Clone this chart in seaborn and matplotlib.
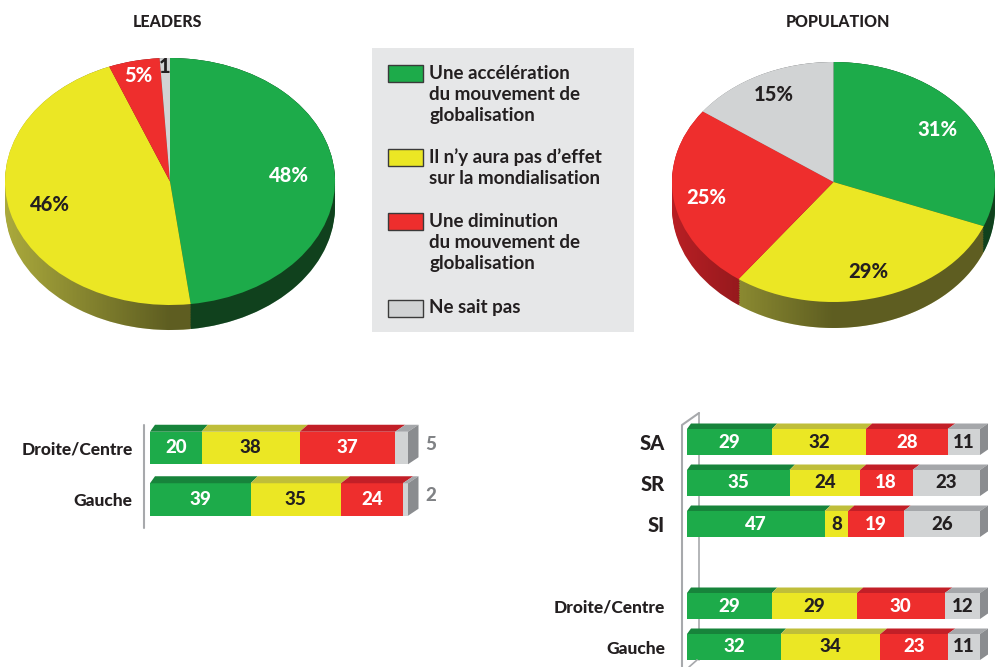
import numpy as np
import matplotlib
matplotlib.use("Agg")
import matplotlib.pyplot as plt
from matplotlib.patches import Polygon, Rectangle
from matplotlib.lines import Line2D
import seaborn as sns

sns.set_theme(style="white")
plt.rcParams["font.family"] = ["Lato", "DejaVu Sans"]
plt.rcParams["font.weight"] = "bold"

W, H = 1000, 667
DARK = "#231f20"
HEAVY = 900

# ---- data ----
answers = [
    "Une accélération\ndu mouvement de\nglobalisation",
    "Il n’y aura pas d’effet\nsur la mondialisation",
    "Une diminution\ndu mouvement de\nglobalisation",
    "Ne sait pas",
]

leaders_share = [48, 46, 5, 1]
leaders_share_labels = ["48%", "46%", "5%", "1"]
population_share = [31, 29, 25, 15]
population_share_labels = ["31%", "29%", "25%", "15%"]

leaders_groups = ["Droite/Centre", "Gauche"]
leaders_accel = [20, 39]
leaders_no_effect = [38, 35]
leaders_decline = [37, 24]
leaders_dont_know = [5, 2]

population_groups = ["SA", "SR", "SI", "Droite/Centre", "Gauche"]
population_order = ["SA", "SR", "SI", " ", "Droite/Centre", "Gauche"]
population_accel = [29, 35, 47, 29, 32]
population_no_effect = [32, 24, 8, 29, 34]
population_decline = [28, 18, 19, 30, 23]
population_dont_know = [11, 23, 26, 12, 11]

# ---- colours ----
face_colors = ["#1dab4a", "#ebe724", "#ee2e2d", "#d1d3d4"]
top_colors = ["#17843b", "#bfbe3a", "#c21f27", "#a5a7aa"]
pie_side_colors = ["#1e7636", "#aaa93c", "#b81f24", "#9a9c9e"]
bar_side_color = "#8a8c8f"
label_colors = ["white", DARK, "white", DARK]
legend_edge = "#3a3a3a"

fig = plt.figure(figsize=(W / 100, H / 100), dpi=100)
fig.patch.set_facecolor("white")


def px_axes(x0, y0, x1, y1):
    # axes placed with pixel box (origin top-left)
    ax = fig.add_axes([x0 / W, 1 - y1 / H, (x1 - x0) / W, (y1 - y0) / H])
    ax.patch.set_visible(False)
    return ax


def px_line(xs, ys, **kw):
    fig.add_artist(Line2D(np.array(xs) / W, 1 - np.array(ys) / H,
                          transform=fig.transFigure, **kw))


def px_text(x, y, s, **kw):
    fig.text(x / W, 1 - y / H, s, **kw)


# ---- 3D-ish pies ----
def pie_3d(box, depth_px, shares, labels, label_dist):
    x0, y0, x1, y1 = box
    ax = px_axes(x0, y0, x1, y1 + depth_px)
    depth = 2 * depth_px / (y1 - y0)
    style = dict(startangle=90, counterclock=False, wedgeprops=dict(linewidth=0))
    for off in np.linspace(depth, 0, 16):
        ax.pie(shares, colors=pie_side_colors, center=(0, -off), **style)

    # darkening ramp over the side (lighter on the left, darker on the right)
    t = np.linspace(0, np.pi, 100)
    outline = np.vstack([np.column_stack([np.cos(t), np.sin(t)]),
                         np.column_stack([np.cos(t + np.pi), np.sin(t + np.pi) - depth])])
    clip = Polygon(outline, closed=True, transform=ax.transData)
    ramp = np.clip((np.linspace(-1, 1, 200) + 1) / 1.0, 0, 1) * 0.45
    rgba = np.zeros((1, 200, 4))
    rgba[..., 3] = ramp
    im = ax.imshow(rgba, extent=(-1, 1, -1 - depth, 1), aspect="auto",
                   interpolation="bilinear", zorder=1.5)
    im.set_clip_path(clip)

    wedges, texts = ax.pie(shares, colors=face_colors, labels=labels,
                           labeldistance=1, **style)
    for w in wedges:
        w.set_zorder(2)
    for txt, c, d in zip(texts, label_colors, label_dist):
        x, y = txt.get_position()
        txt.set_position((x * d, y * d))
        txt.set(color=c, ha="center", va="center", fontsize=14.5,
                fontweight=HEAVY, zorder=3)
    ax.set_aspect("auto")
    ax.set_xlim(-1, 1)
    ax.set_ylim(-1 - depth, 1)
    return ax


pie_3d((5, 58, 335, 305), 25, leaders_share, leaders_share_labels,
       [0.72, 0.75, 0.88, 0.93])
pie_3d((672, 62, 995, 302), 26, population_share, population_share_labels,
       [0.78, 0.78, 0.8, 0.82])

px_text(167, 22, "LEADERS", ha="center", va="center", fontsize=11.5,
        fontweight=HEAVY, color=DARK)
px_text(838, 22, "POPULATION", ha="center", va="center", fontsize=11.5,
        fontweight=HEAVY, color=DARK)

# ---- legend box ----
lax = px_axes(372, 48, 634, 332)
lax.patch.set_visible(True)
lax.set_facecolor("#e6e7e8")
lax.set_xlim(372, 634)
lax.set_ylim(332, 48)
lax.set_xticks([])
lax.set_yticks([])
for sp in lax.spines.values():
    sp.set_visible(False)
for top, label, col in zip([65, 149, 213, 300], answers, face_colors):
    lax.add_patch(Rectangle((388, top), 35, 17, facecolor=col,
                            edgecolor=legend_edge, linewidth=1))
    lax.text(429, top - 0.5, label, ha="left", va="top", fontsize=13.5,
             fontweight="bold", color=DARK, linespacing=1.3)


# ---- stacked 3D bars ----
def stacked_bars(order, groups, parts, x0_px, px_per, row0_px, step_px, front_px,
                 dx_l, dx_r, dy_px, label_pad, label_sizes, outside_last=False):
    n_rows = len(order)
    y_top = row0_px - 0.8 * step_px
    y_bot = row0_px + (n_rows - 1 + 0.8) * step_px
    ax = px_axes(x0_px, y_top, x0_px + 100 * px_per, y_bot)
    width = front_px / step_px
    parts = np.array(parts, dtype=float)
    cum = np.cumsum(parts, axis=0)
    for k in range(len(parts) - 1, -1, -1):
        sns.barplot(x=cum[k], y=groups, order=order, orient="h",
                    color=face_colors[k], saturation=1, width=width,
                    errorbar=None, linewidth=0, ax=ax)
    ax.set_xlim(0, 100)
    ax.set_ylim((y_bot - row0_px) / step_px, (y_top - row0_px) / step_px)
    dy = dy_px / step_px

    def shift(x):
        return (dx_l + (dx_r - dx_l) * x / 100) / px_per

    for i, g in enumerate(groups):
        pos = order.index(g)
        yt = pos - width / 2
        yb = pos + width / 2
        for k in range(len(parts)):
            right = cum[k][i]
            left = right - parts[k][i]
            ax.add_patch(Polygon([(left, yt), (right, yt),
                                  (right + shift(right), yt - dy),
                                  (left + shift(left), yt - dy)],
                                 closed=True, facecolor=top_colors[k],
                                 linewidth=0, clip_on=False))
            val = int(parts[k][i])
            if outside_last and k == len(parts) - 1:
                ax.text(right + shift(right) + 2.5, pos - dy / 2, str(val),
                        ha="left", va="center", fontsize=13.5, fontweight=HEAVY,
                        color="#808285", clip_on=False)
            else:
                ax.text((left + right) / 2, pos, str(val), ha="center",
                        va="center", fontsize=13.5, fontweight=HEAVY,
                        color=label_colors[k])
        end = cum[-1][i]
        s = shift(end)
        ax.add_patch(Polygon([(end, yt), (end + s, yt - dy), (end + s, yb - dy), (end, yb)],
                             closed=True, facecolor=bar_side_color, linewidth=0,
                             clip_on=False))
    ax.set_xticks([])
    ax.set_xlabel("")
    ax.set_ylabel("")
    sns.despine(ax=ax, left=True, bottom=True)
    ax.tick_params(axis="y", length=0, pad=label_pad)
    for lbl in ax.get_yticklabels():
        lbl.set_fontweight(HEAVY)
        lbl.set_color(DARK)
        lbl.set_fontsize(label_sizes.get(lbl.get_text(), 12.5))
    return ax


stacked_bars(leaders_groups, leaders_groups,
             [leaders_accel, leaders_no_effect, leaders_decline, leaders_dont_know],
             150, 2.58, 448, 51.5, 32.5, 5, 10.5, 7, 12.5, {}, outside_last=True)
stacked_bars(population_order, population_groups,
             [population_accel, population_no_effect, population_decline,
              population_dont_know],
             687, 2.93, 442, 41, 26, 4, 8, 5.5, 16, {"SA": 14.5, "SR": 14.5, "SI": 14.5})

# walls behind the bars
wall = "#a7a9ac"
px_line([144, 144], [425, 528], color=wall, lw=1.5)
px_line([682, 682, 699], [667, 425, 413], color=wall, lw=1.5)
px_line([699, 699], [413, 660], color=wall, lw=1.2, zorder=0)
px_line([689, 697], [667, 660], color=wall, lw=1.2)

fig.savefig("out.png", dpi=100)
